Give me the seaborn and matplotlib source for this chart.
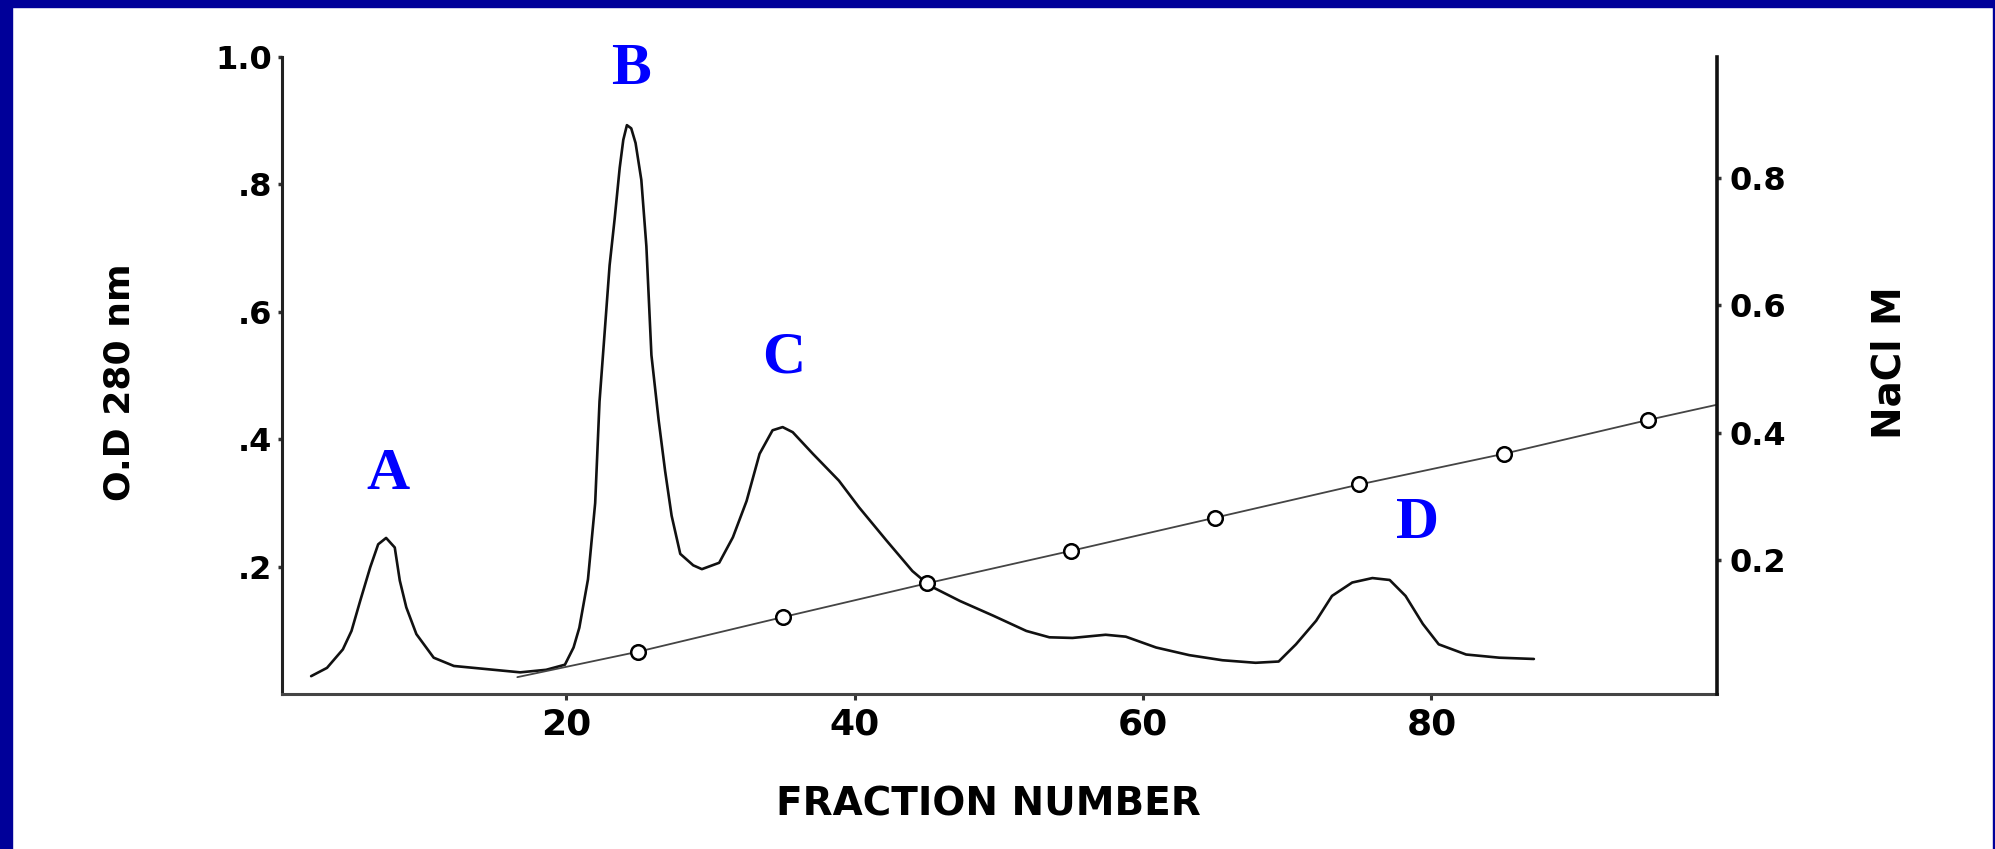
import matplotlib
matplotlib.use("Agg")
import matplotlib.pyplot as plt
from matplotlib.patches import Rectangle
import pandas as pd
import seaborn as sns

# Absorbance profile of the column eluate (O.D. at 280 nm per fraction)
od_fraction = [2.3, 3.4, 4.5, 5.1, 5.7, 6.4, 6.95, 7.5, 8.1, 8.45, 8.9, 9.6,
               10.8, 12.2, 14.5, 16.8, 18.6, 19.9, 20.5, 20.9, 21.5, 22.0,
               22.3, 22.7, 23.0, 23.35, 23.7, 23.95, 24.2, 24.5, 24.8, 25.2,
               25.55, 25.9, 26.4, 26.85, 27.3, 27.9, 28.8, 29.4, 30.6, 31.55,
               32.5, 33.4, 34.3, 35.0, 35.7, 37.1, 38.9, 40.3, 42.2, 44.0,
               45.2, 47.3, 49.6, 51.9, 53.5, 55.1, 57.4, 58.8, 60.9, 63.2,
               65.5, 67.8, 69.4, 70.6, 72.0, 73.1, 74.5, 75.9, 77.1, 78.2,
               79.4, 80.5, 82.4, 84.7, 87.1]
od_280 = [0.028, 0.041, 0.070, 0.099, 0.146, 0.199, 0.235, 0.245, 0.230,
          0.178, 0.136, 0.094, 0.057, 0.044, 0.039, 0.034, 0.038, 0.046,
          0.073, 0.104, 0.180, 0.300, 0.459, 0.581, 0.673, 0.746, 0.826,
          0.870, 0.893, 0.888, 0.865, 0.807, 0.703, 0.532, 0.430, 0.350,
          0.280, 0.220, 0.202, 0.196, 0.206, 0.246, 0.303, 0.377, 0.414,
          0.419, 0.411, 0.377, 0.335, 0.293, 0.241, 0.193, 0.170, 0.146,
          0.123, 0.099, 0.089, 0.088, 0.093, 0.090, 0.073, 0.061, 0.053,
          0.049, 0.051, 0.078, 0.115, 0.154, 0.175, 0.182, 0.179, 0.154,
          0.110, 0.078, 0.062, 0.057, 0.055]

# Salt gradient: line ends plus the measured fractions (circles)
gradient_fraction = [16.6, 99.8]
gradient_nacl = [0.017, 0.444]
sampled_fraction = [25, 35, 45, 55, 65, 75, 85, 95]
sampled_nacl = [0.057, 0.111, 0.164, 0.215, 0.267, 0.319, 0.367, 0.420]

# Peak labels
peak_names = ["A", "B", "C", "D"]
peak_x = [7.6, 24.5, 35.1, 79.0]
peak_y = [0.322, 0.958, 0.504, 0.245]

# Axis ticks
x_ticks = [20, 40, 60, 80]
x_tick_labels = ["20", "40", "60", "80"]
od_ticks = [0.2, 0.4, 0.6, 0.8, 1.0]
od_tick_labels = [".2", ".4", ".6", ".8", "1.0"]
nacl_ticks = [0.2, 0.4, 0.6, 0.8]
nacl_tick_labels = ["0.2", "0.4", "0.6", "0.8"]

sns.set_style("ticks")
plt.rcParams["font.family"] = ["DejaVu Sans"]
plt.rcParams["font.weight"] = "bold"
for key in ["text.color", "axes.labelcolor", "xtick.color", "ytick.color",
            "xtick.labelcolor", "ytick.labelcolor"]:
    plt.rcParams[key] = "black"

W, H = 1995, 849
fig = plt.figure(figsize=(W / 100, H / 100), dpi=100, facecolor="white")

# frame around the slide
navy = "#000099"
fig.add_artist(Rectangle((0, 0), 12 / W, 1, transform=fig.transFigure,
                         color=navy, zorder=0))
fig.add_artist(Rectangle((0, 1 - 7 / H), 1, 7 / H, transform=fig.transFigure,
                         color=navy, zorder=0))
fig.add_artist(Rectangle((1 - 2 / W, 0), 2 / W, 1, transform=fig.transFigure,
                         color=navy, zorder=0))

ax = fig.add_axes([282 / W, 155 / H, 1435 / W, 637 / H])
ax2 = ax.twinx()

od_df = pd.DataFrame({"fraction": od_fraction, "od": od_280})
line_df = pd.DataFrame({
    "fraction": [gradient_fraction[0]] + sampled_fraction + [gradient_fraction[1]],
    "nacl": [gradient_nacl[0]] + sampled_nacl + [gradient_nacl[1]],
})
pts_df = pd.DataFrame({"fraction": sampled_fraction, "nacl": sampled_nacl})

sns.lineplot(data=od_df, x="fraction", y="od", ax=ax, estimator=None,
             sort=False, color="#111111", linewidth=1.9)
sns.lineplot(data=line_df, x="fraction", y="nacl", ax=ax2, estimator=None,
             sort=False, color="#444444", linewidth=1.3)
sns.scatterplot(data=pts_df, x="fraction", y="nacl", ax=ax2, marker="o",
                s=110, color="white", edgecolor="black", linewidth=1.8,
                zorder=5)

ax.set_xlim(0.28, 99.8)
ax.set_ylim(0, 1.0)
ax2.set_ylim(-0.0094, 0.989)

for name, x, y in zip(peak_names, peak_x, peak_y):
    ax.text(x, y, name, ha="center", va="baseline", color="#0000ff",
            fontsize=43, fontweight="bold", family="Liberation Serif",
            clip_on=False)

spine_color = "#333333"
for side in ["top", "right"]:
    ax.spines[side].set_visible(False)
ax.spines["left"].set_color("#222222")
ax.spines["left"].set_linewidth(2.2)
ax.spines["bottom"].set_color("#444444")
ax.spines["bottom"].set_linewidth(2.2)
for side in ["top", "left", "bottom"]:
    ax2.spines[side].set_visible(False)
ax2.spines["right"].set_color("#111111")
ax2.spines["right"].set_linewidth(2.6)

ax.set_xticks(x_ticks)
ax.set_xticklabels(x_tick_labels, fontsize=26, fontweight="bold")
ax.set_yticks(od_ticks)
ax.set_yticklabels(od_tick_labels, fontsize=23, fontweight="bold")
ax2.set_yticks(nacl_ticks)
ax2.set_yticklabels(nacl_tick_labels, fontsize=23, fontweight="bold")

ax.tick_params(axis="x", direction="out", length=4, width=2.2, pad=6,
               color=spine_color)
ax.tick_params(axis="y", direction="out", length=3, width=2.5, pad=4,
               color=spine_color)
ax2.tick_params(axis="y", direction="out", length=3, width=2.5, pad=6,
                color=spine_color)

ax.set_xlabel("FRACTION NUMBER", fontsize=28, fontweight="bold")
ax.xaxis.set_label_coords(0.492, -0.173)
ax.xaxis.label.set_va("center")

ax.set_ylabel("O.D 280 nm", fontsize=26, fontweight="bold")
ax.yaxis.set_label_coords(-0.113, 0.49)
ax.yaxis.label.set_va("center")

ax2.set_ylabel("NaCl M", fontsize=28, fontweight="bold", rotation=90)
ax2.yaxis.set_label_coords(1.12, 0.52)
ax2.yaxis.label.set_va("center")

fig.savefig("out.png", dpi=100, facecolor="white")
